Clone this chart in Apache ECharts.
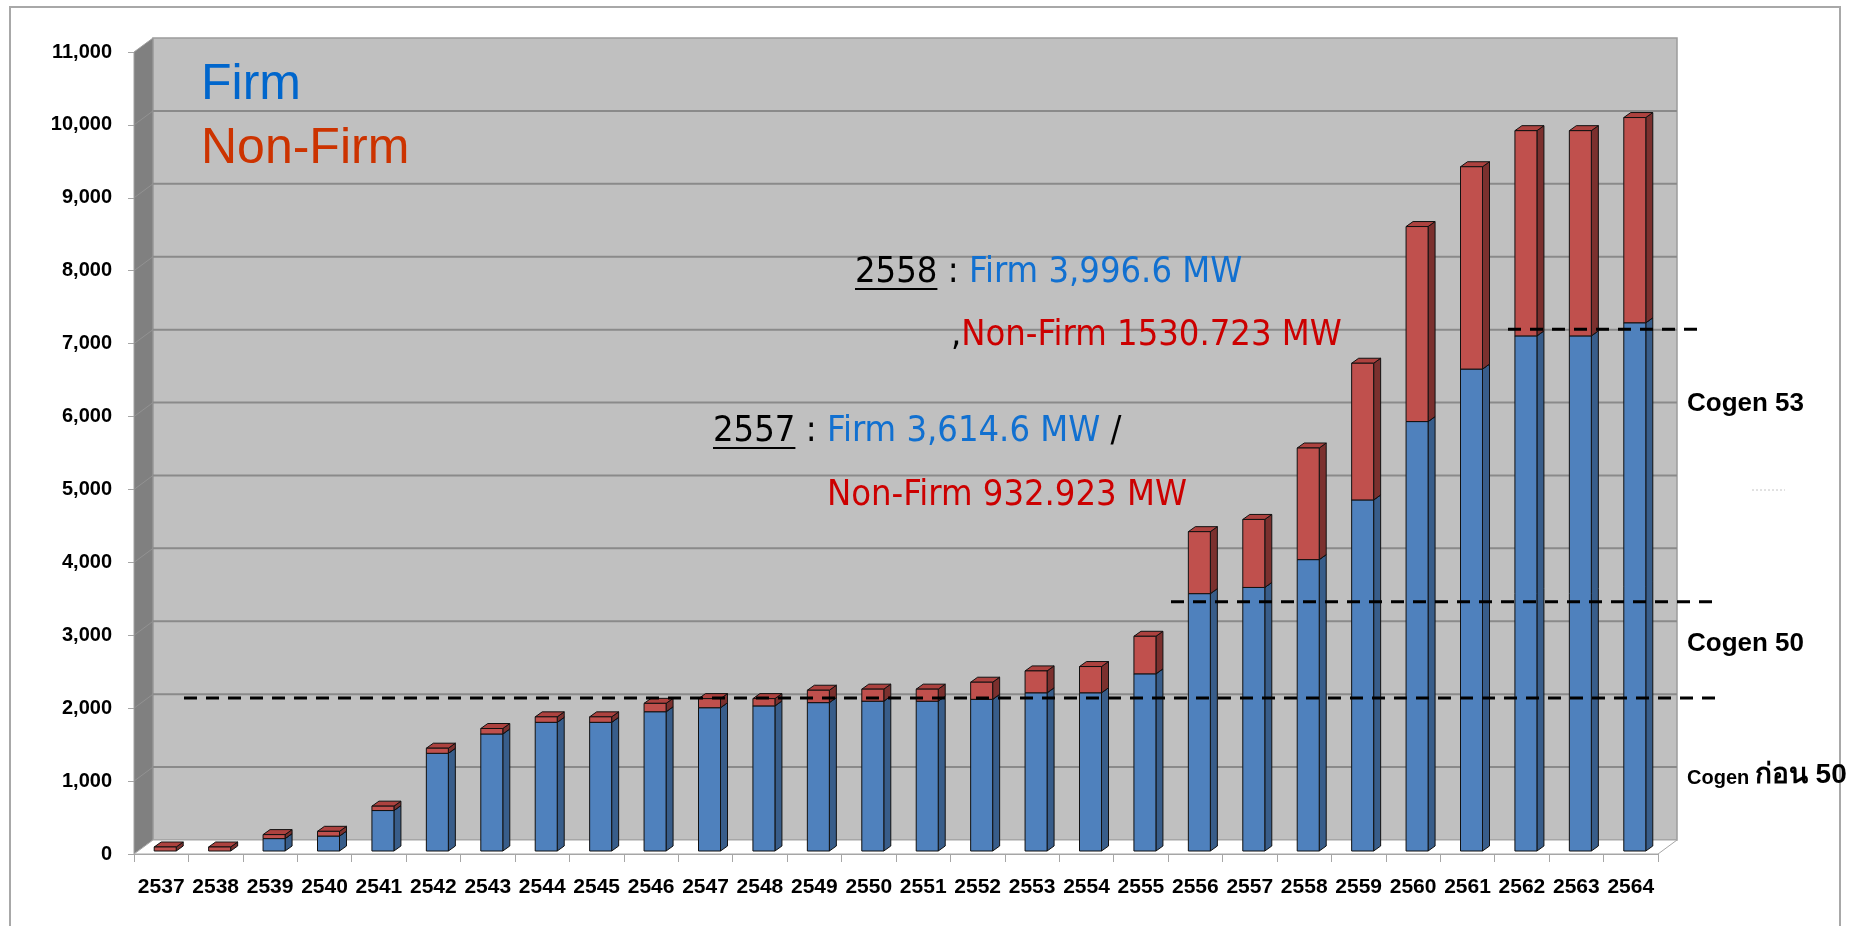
<!DOCTYPE html>
<html>
<head>
<meta charset="utf-8">
<title>Firm / Non-Firm</title>
<script src="https://cdn.jsdelivr.net/npm/echarts@6/dist/echarts.min.js"></script>
<style>
  html, body { margin: 0; padding: 0; background: #fff; }
  #main { width: 1865px; height: 926px; }
</style>
</head>
<body>
<div id="main"></div>
<script>
// data (MW)
var years = ['2537', '2538', '2539', '2540', '2541', '2542', '2543', '2544', '2545', '2546',
             '2547', '2548', '2549', '2550', '2551', '2552', '2553', '2554', '2555', '2556',
             '2557', '2558', '2559', '2560', '2561', '2562', '2563', '2564'];
var firm = [0, 0, 170, 205, 555, 1340, 1605, 1765, 1765, 1910,
            1965, 1990, 2035, 2055, 2055, 2080, 2170, 2170, 2430, 3530,
            3614.6, 3996.6, 4815, 5890, 6610, 7065, 7065, 7245];
var nonFirm = [55, 55, 55, 65, 60, 70, 75, 75, 75, 115,
               125, 100, 170, 165, 165, 235, 300, 360, 515, 850,
               932.923, 1530.723, 1875, 2675, 2775, 2815, 2815, 2815];
var yTicks = [0, 1000, 2000, 3000, 4000, 5000, 6000, 7000, 8000, 9000, 10000, 11000];
var cogenLevels = [2100, 3420, 7155];

// 3d look
var DX = 19, DY = -14;          // wall depth
var BDX = 7, BDY = -5;          // bar depth
var BAR_W = 22, BAR_SHIFT = 4, BAR_LIFT = 3;

var BLUE = { front: '#4f81bd', side: '#385d8a', top: '#5d8fcb' };
var RED = { front: '#c0504d', side: '#7b302e', top: '#ad423f' };

var axisFont = "'Liberation Sans', Arial, sans-serif";
var annoFont = "'DejaVu Sans Condensed', 'DejaVu Sans', sans-serif";
var arialFont = "'Liberation Sans', Arial, 'Noto Sans', sans-serif";

var firmData = [], nonFirmData = [];
for (var i = 0; i < years.length; i++) {
    firmData.push([i, 0, firm[i]]);
    nonFirmData.push([i, firm[i], firm[i] + nonFirm[i]]);
}

function renderWalls(params, api) {
    var cs = params.coordSys;
    var x0 = cs.x, x1 = cs.x + cs.width, y0 = cs.y, y1 = cs.y + cs.height;
    var kids = [];
    // back wall
    kids.push({ type: 'rect', shape: { x: x0 + DX, y: y0 + DY, width: cs.width, height: cs.height },
        style: { fill: '#c0c0c0', stroke: '#9c9c9c', lineWidth: 1.5 } });
    // left wall
    kids.push({ type: 'polygon', shape: { points: [[x0, y0], [x0 + DX, y0 + DY], [x0 + DX, y1 + DY], [x0, y1]] },
        style: { fill: '#808080', stroke: '#a0a0a0', lineWidth: 1 } });
    for (var k = 1; k < yTicks.length - 1; k++) {
        var y = api.coord([0, yTicks[k]])[1];
        kids.push({ type: 'line', shape: { x1: x0 + DX, y1: y + DY, x2: x1 + DX, y2: y + DY },
            style: { stroke: '#8a8a8a', lineWidth: 2 } });
        kids.push({ type: 'line', shape: { x1: x0, y1: y, x2: x0 + DX, y2: y + DY },
            style: { stroke: '#929292', lineWidth: 1 } });
    }
    // floor
    kids.push({ type: 'polygon', shape: { points: [[x0, y1], [x0 + DX, y1 + DY], [x1 + DX, y1 + DY], [x1, y1]] },
        style: { fill: '#ffffff', stroke: '#a6a6a6', lineWidth: 1 } });
    return { type: 'group', children: kids };
}

function barRenderer(col) {
    return function (params, api) {
        var idx = params.dataIndex;
        var lo = api.value(1), hi = api.value(2);
        if (hi <= lo) return;
        var c = api.coord([idx, 0])[0] + BAR_SHIFT;
        var yl = api.coord([idx, lo])[1] - BAR_LIFT;
        var yh = api.coord([idx, hi])[1] - BAR_LIFT;
        var l = c - BAR_W / 2, r = c + BAR_W / 2;
        var edge = { stroke: '#111', lineWidth: 1 };
        return {
            type: 'group',
            children: [
                { type: 'polygon', shape: { points: [[r, yh], [r + BDX, yh + BDY], [r + BDX, yl + BDY], [r, yl]] },
                  style: Object.assign({ fill: col.side }, edge) },
                { type: 'polygon', shape: { points: [[l, yh], [l + BDX, yh + BDY], [r + BDX, yh + BDY], [r, yh]] },
                  style: Object.assign({ fill: col.top }, edge) },
                { type: 'rect', shape: { x: l, y: yh, width: BAR_W, height: yl - yh },
                  style: Object.assign({ fill: col.front }, edge) }
            ]
        };
    };
}

var chart = echarts.init(document.getElementById('main'));

chart.setOption({
    backgroundColor: '#ffffff',
    animation: false,
    grid: { left: 134, right: 207, top: 52, bottom: 72 },
    xAxis: {
        type: 'category',
        data: years,
        axisLine: { show: true, lineStyle: { color: '#a6a6a6', width: 1 } },
        axisTick: { show: true, length: 8, lineStyle: { color: '#a6a6a6' } },
        axisLabel: { interval: 0, margin: 23, color: '#000', fontWeight: 'bold', fontSize: 21, fontFamily: axisFont }
    },
    yAxis: {
        type: 'value',
        min: 0,
        max: 11000,
        interval: 1000,
        axisLine: { show: false },
        axisTick: { show: true, length: 6, lineStyle: { color: '#a6a6a6' } },
        splitLine: { show: false },
        axisLabel: {
            margin: 22, color: '#000', fontWeight: 'bold', fontSize: 20, fontFamily: axisFont,
            formatter: function (v) { return v.toLocaleString('en-US'); }
        }
    },
    series: [
        { type: 'custom', name: 'walls', z: 1, silent: true, renderItem: renderWalls, data: [[0, 0]] },
        { type: 'custom', name: 'Firm', z: 3, silent: true, renderItem: barRenderer(BLUE),
          encode: { x: 0, y: [1, 2] }, data: firmData },
        { type: 'custom', name: 'Non-Firm', z: 4, silent: true, renderItem: barRenderer(RED),
          encode: { x: 0, y: [1, 2] }, data: nonFirmData }
    ]
});

// text helpers
var mctx = document.createElement('canvas').getContext('2d');
function textW(str, font) { mctx.font = font; return mctx.measureText(str).width; }

function textRun(x, baseline, size, family, weight, parts) {
    var els = [];
    parts.forEach(function (p) {
        var sz = p.size || size;
        var font = (p.weight || weight) + ' ' + sz + 'px ' + family;
        els.push({
            type: 'text', x: x, y: baseline - 0.35 * sz, z: 100,
            style: { text: p.t, font: font, fill: p.c || '#000', align: 'left', verticalAlign: 'middle' }
        });
        var w = textW(p.t, font);
        if (p.u) {
            els.push({ type: 'rect', z: 100, shape: { x: x, y: baseline + 3, width: w, height: 2 }, style: { fill: '#000' } });
        }
        x += w;
    });
    return els;
}

function arrow(x1, y1, x2, y2) {
    var a = Math.atan2(y2 - y1, x2 - x1), L = 22, w = 0.5;
    return {
        type: 'group', z: 100,
        children: [
            { type: 'line', shape: { x1: x1, y1: y1, x2: x2, y2: y2 }, style: { stroke: '#000', lineWidth: 4 } },
            { type: 'polyline', shape: { points: [
                [x2 - L * Math.cos(a - w), y2 - L * Math.sin(a - w)], [x2, y2],
                [x2 - L * Math.cos(a + w), y2 - L * Math.sin(a + w)]] },
              style: { stroke: '#000', lineWidth: 4, fill: null } }
        ]
    };
}

function levelY(v) { return chart.convertToPixel({ yAxisIndex: 0 }, v) - BAR_LIFT; }

var BLUE_TXT = '#1170d0', RED_TXT = '#cc0000';
var g = [];
// outer frame
g.push({ type: 'rect', z: 90, shape: { x: 10, y: 7, width: 1830, height: 940 },
         style: { fill: null, stroke: '#a8a8a8', lineWidth: 2 } });

// dashed cogen levels
var dashX = [[184, 1716], [1171, 1716], [1508, 1700]];
cogenLevels.forEach(function (v, k) {
    var y = levelY(v);
    g.push({ type: 'line', z: 95, shape: { x1: dashX[k][0], y1: y, x2: dashX[k][1], y2: y },
             style: { stroke: '#000', lineWidth: 3, lineDash: [13, 9] } });
});
g.push({ type: 'line', z: 95, shape: { x1: 1752, y1: 490, x2: 1785, y2: 490 },
         style: { stroke: '#c4c4c4', lineWidth: 1, lineDash: [2, 2] } });

// legend-like labels
g = g.concat(textRun(201, 103, 50, arialFont, 'normal', [{ t: 'Firm', c: '#0066cc' }]));
g = g.concat(textRun(201, 167, 50, arialFont, 'normal', [{ t: 'Non-Firm', c: '#cc3300' }]));

// annotations
g = g.concat(textRun(855, 285, 36, annoFont, 'normal',
    [{ t: '2558', u: true }, { t: ' : ' }, { t: 'Firm 3,996.6 MW', c: BLUE_TXT }]));
g = g.concat(textRun(951, 348, 36, annoFont, 'normal',
    [{ t: ',' }, { t: 'Non-Firm 1530.723 MW', c: RED_TXT }]));
g = g.concat(textRun(713, 444, 36, annoFont, 'normal',
    [{ t: '2557', u: true }, { t: ' : ' }, { t: 'Firm 3,614.6 MW', c: BLUE_TXT }, { t: ' /' }]));
g = g.concat(textRun(827, 508, 36, annoFont, 'normal',
    [{ t: 'Non-Firm 932.923 MW', c: RED_TXT }]));
g.push(arrow(1234, 362, 1313, 440));
g.push(arrow(1187, 456, 1266, 536));

// cogen labels
g = g.concat(textRun(1687, 413, 26, arialFont, 'bold', [{ t: 'Cogen 53' }]));
g = g.concat(textRun(1687, 653, 26, arialFont, 'bold', [{ t: 'Cogen 50' }]));
g = g.concat(textRun(1687, 785, 26, arialFont, 'bold',
    [{ t: 'Cogen ', size: 20 }, { t: 'ก่อน ', size: 28 }, { t: '50', size: 28 }]));

chart.setOption({ graphic: { elements: g } });
</script>
</body>
</html>
